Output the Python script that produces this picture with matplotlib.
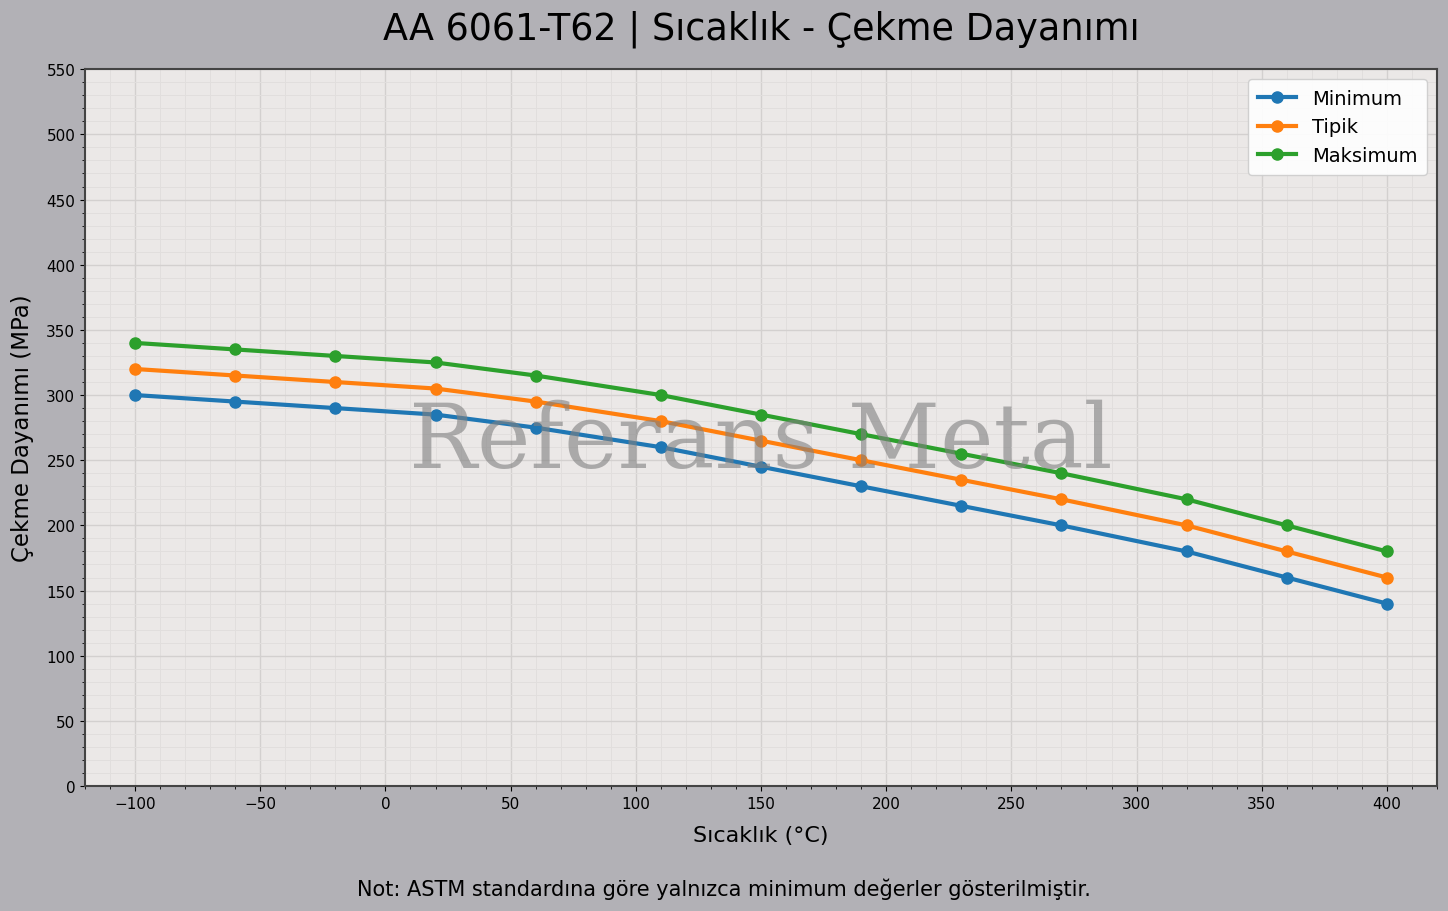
import matplotlib
matplotlib.use("Agg")
import matplotlib.pyplot as plt
from matplotlib.ticker import MultipleLocator

# veriler
sicaklik = [-100, -60, -20, 20, 60, 110, 150, 190, 230, 270, 320, 360, 400]
minimum = [300, 295, 290, 285, 275, 260, 245, 230, 215, 200, 180, 160, 140]
tipik = [320, 315, 310, 305, 295, 280, 265, 250, 235, 220, 200, 180, 160]
maksimum = [340, 335, 330, 325, 315, 300, 285, 270, 255, 240, 220, 200, 180]

fig = plt.figure(figsize=(14.48, 9.12), dpi=100, facecolor='#b2b1b6')
ax = fig.add_axes([0.0587, 0.137, 0.9337, 0.786])
ax.set_facecolor('#ebe8e7')

ax.plot(sicaklik, minimum, marker='o', lw=3, ms=8, color='#1f77b4', label='Minimum')
ax.plot(sicaklik, tipik, marker='o', lw=3, ms=8, color='#ff7f0e', label='Tipik')
ax.plot(sicaklik, maksimum, marker='o', lw=3, ms=8, color='#2ca02c', label='Maksimum')

ax.set_xlim(-120, 420)
ax.set_ylim(0, 550)
ax.yaxis.set_major_locator(MultipleLocator(50))
ax.xaxis.set_major_locator(MultipleLocator(50))
ax.xaxis.set_minor_locator(MultipleLocator(10))
ax.yaxis.set_minor_locator(MultipleLocator(10))
ax.grid(which='major', color='#d3d0cf', lw=1.0)
ax.grid(which='minor', color='#e1dedd', lw=0.7)
ax.set_axisbelow(True)
ax.tick_params(labelsize=11)
for s in ax.spines.values():
    s.set_color('#444444')
    s.set_linewidth(1.5)

ax.set_xlabel('Sıcaklık (°C)', fontsize=16, labelpad=10)
ax.set_ylabel('Çekme Dayanımı (MPa)', fontsize=16.5, labelpad=9)
ax.set_title('AA 6061-T62 | Sıcaklık - Çekme Dayanımı', fontsize=26.3, pad=22)
ax.legend(loc='upper right', fontsize=14, framealpha=0.9, borderpad=0.5)

ax.text(0.5, 0.48, 'Referans Metal', transform=ax.transAxes, fontsize=65,
        family='DejaVu Serif', color='gray', alpha=0.6, ha='center', va='center')

fig.text(0.5, 0.017, 'Not: ASTM standardına göre yalnızca minimum değerler gösterilmiştir.',
         ha='center', fontsize=15)

fig.savefig('out.png', dpi=100, facecolor=fig.get_facecolor())
